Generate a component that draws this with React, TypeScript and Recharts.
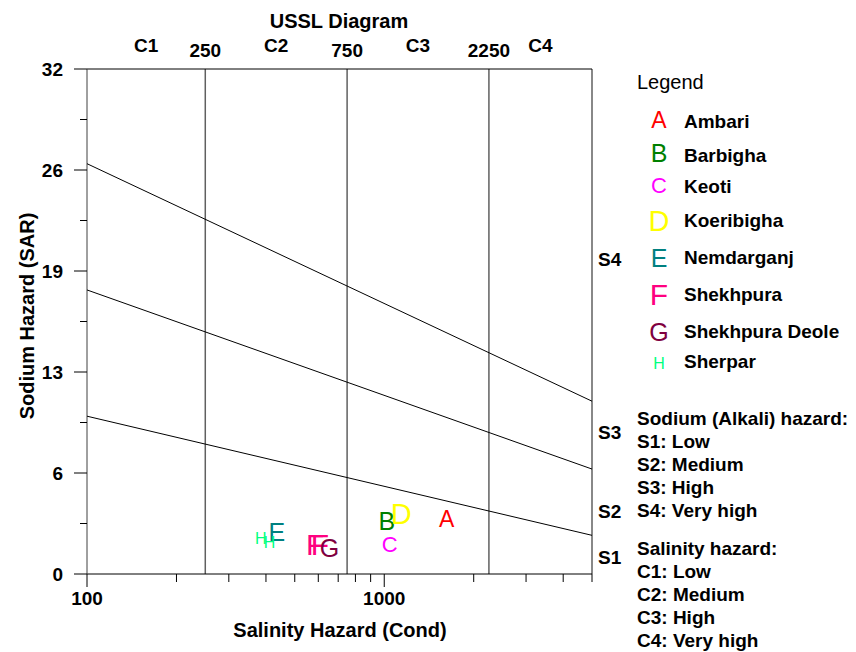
import { ScatterChart, Scatter, XAxis, YAxis, ReferenceLine } from "recharts";

const FONT = "'Liberation Sans', Arial, Helvetica, sans-serif";

// sampling sites
const siteLetters = ["A", "B", "C", "D", "E", "F", "G", "H"];
const siteNames = ["Ambari", "Barbigha", "Keoti", "Koeribigha", "Nemdarganj", "Shekhpura", "Shekhpura Deole", "Sherpar"];
const siteColors = ["#ff0000", "#008000", "#ff00ff", "#ffff00", "#008080", "#ff0080", "#800040", "#00ff80"];
const siteSizes = [23, 25, 22, 29, 25, 30, 25, 16];

// samples (conductivity, SAR)
const sampleSite = ["A", "B", "C", "D", "E", "F", "F", "G", "H", "H"];
const sampleCond = [1623, 1020, 1044, 1141, 435, 586, 608, 654, 384, 411];
const sampleSar = [3.5, 3.38, 1.88, 3.85, 2.68, 1.92, 1.86, 1.67, 2.26, 2.03];

// axes
const condDomain = [100, 5000];
const condTicks = [100, 200, 300, 400, 500, 600, 700, 800, 900, 1000, 2000, 3000, 4000, 5000];
const condLabelTicks = [100, 1000];
const sarDomain = [0, 32];
const sarTicks = [0, 3.2, 6.4, 9.6, 12.8, 16, 19.2, 22.4, 25.6, 28.8, 32];
const sarMajor = [0, 6.4, 12.8, 19.2, 25.6, 32];

// salinity classes
const classBounds = [250, 750, 2250];
const classNames = ["C1", "C2", "C3", "C4"];

// sodium hazard boundaries: SAR at cond 100 and at cond 5000
const boundaryStart = [10, 18, 26];
const boundaryEnd = [2.45, 6.65, 10.95];

const sodiumNames = ["S1", "S2", "S3", "S4"];
const sodiumLabelSar = [1.1, 4.0, 9.0, 19.96];

const sodiumText = ["Sodium (Alkali) hazard:", "S1: Low", "S2: Medium", "S3: High", "S4: Very high"];
const salinityText = ["Salinity hazard:", "C1: Low", "C2: Medium", "C3: High", "C4: Very high"];

// top axis ticks: class names at geometric middles, bounds at their values
const classEdges = [condDomain[0], ...classBounds, condDomain[1]];
const topTicks: { v: number; label: string; bound: boolean }[] = [];
classNames.forEach((name, i) => {
  topTicks.push({ v: Math.sqrt(classEdges[i] * classEdges[i + 1]), label: name, bound: false });
  if (i < classBounds.length) topTicks.push({ v: classBounds[i], label: String(classBounds[i]), bound: true });
});

const legendNameY = [128, 162, 193, 227, 264, 301, 338, 368];
const legendLetterY = [128, 162, 193, 231, 267, 305, 341, 369];

const bold = { fontFamily: FONT, fontWeight: 700, fontSize: 19, fill: "#000" } as const;

function CondTick({ x, y, payload }: any) {
  const major = condLabelTicks.includes(payload.value);
  return (
    <g>
      <line x1={x} x2={x} y1={y} y2={y + (major ? 13 : 8)} stroke="#000" />
      {major ? (
        <text x={x} y={y + 31} textAnchor="middle" {...bold}>
          {payload.value}
        </text>
      ) : null}
    </g>
  );
}

function SarTick({ x, y, payload }: any) {
  const major = sarMajor.includes(payload.value);
  return (
    <g>
      <line x1={x} x2={x - (major ? 13 : 7)} y1={y} y2={y} stroke="#000" />
      {major ? (
        <text x={x - 24} y={y + 7} textAnchor="end" {...bold}>
          {Math.round(payload.value)}
        </text>
      ) : null}
    </g>
  );
}

function ClassTick({ x, y, index }: any) {
  const t = topTicks[index];
  if (!t) return null;
  return (
    <text x={x} y={y - (t.bound ? 12 : 17)} textAnchor="middle" {...bold}>
      {t.label}
    </text>
  );
}

export default function App() {
  const sites = siteLetters.map((letter, i) => ({
    letter,
    color: siteColors[i],
    size: siteSizes[i],
    points: sampleSite
      .map((s, j) => ({ s, cond: sampleCond[j], sar: sampleSar[j] }))
      .filter((p) => p.s === letter),
  }));

  const boundaries = boundaryStart.map((s, i) => [
    { cond: condDomain[0], sar: s },
    { cond: condDomain[1], sar: boundaryEnd[i] },
  ]);

  const sodiumLabels = sodiumNames.map((name, i) => ({ name, cond: condDomain[1], sar: sodiumLabelSar[i] }));

  return (
    <div style={{ position: "absolute", left: 0, top: 0, width: 856, height: 652, background: "#fff" }}>
      <ScatterChart width={856} height={652} margin={{ top: 0, right: 264, bottom: 0, left: 0 }}>
        <XAxis
          xAxisId="bottom"
          dataKey="cond"
          type="number"
          scale="log"
          domain={condDomain}
          ticks={condTicks}
          interval={0}
          height={78}
          tickSize={0}
          tickMargin={0}
          tickLine={false}
          tick={<CondTick />}
          axisLine={{ stroke: "#000" }}
        />
        <XAxis
          xAxisId="top"
          orientation="top"
          dataKey="cond"
          type="number"
          scale="log"
          domain={condDomain}
          allowDataOverflow
          ticks={topTicks.map((t) => t.v)}
          interval={0}
          height={69}
          tickSize={0}
          tickMargin={0}
          tickLine={false}
          tick={<ClassTick />}
          axisLine={{ stroke: "#000" }}
        />
        <YAxis
          dataKey="sar"
          type="number"
          domain={sarDomain}
          ticks={sarTicks}
          interval={0}
          width={87}
          tickSize={0}
          tickMargin={0}
          tickLine={false}
          tick={<SarTick />}
          axisLine={{ stroke: "#404040" }}
        />
        {classBounds.map((b) => (
          <ReferenceLine key={b} xAxisId="bottom" x={b} stroke="#606060" strokeWidth={1.5} />
        ))}
        <ReferenceLine xAxisId="bottom" x={condDomain[1]} stroke="#606060" strokeWidth={1.5} />
        {boundaries.map((d, i) => (
          <Scatter
            key={"b" + i}
            xAxisId="bottom"
            data={d}
            line={{ stroke: "#000", strokeWidth: 1 }}
            shape={() => <g />}
            isAnimationActive={false}
          />
        ))}
        {sites.map((site) => (
          <Scatter
            key={site.letter}
            xAxisId="bottom"
            name={site.letter}
            data={site.points}
            isAnimationActive={false}
            shape={(p: any) => (
              <text
                x={p.cx}
                y={p.cy + site.size * 0.36}
                textAnchor="middle"
                fontFamily={FONT}
                fontSize={site.size}
                fill={site.color}
              >
                {site.letter}
              </text>
            )}
          />
        ))}
        <Scatter
          xAxisId="bottom"
          data={sodiumLabels}
          isAnimationActive={false}
          shape={(p: any) => (
            <text x={p.cx + 6} y={p.cy + 7} {...bold}>
              {p.payload.name}
            </text>
          )}
        />
      </ScatterChart>

      <svg width={856} height={652} style={{ position: "absolute", left: 0, top: 0, pointerEvents: "none" }}>
        <text x={339} y={28} textAnchor="middle" fontFamily={FONT} fontWeight={700} fontSize={20}>
          USSL Diagram
        </text>
        <text x={340} y={637} textAnchor="middle" fontFamily={FONT} fontWeight={700} fontSize={20}>
          Salinity Hazard (Cond)
        </text>
        <text
          x={0}
          y={0}
          transform="translate(34,316) rotate(-90)"
          textAnchor="middle"
          fontFamily={FONT}
          fontWeight={700}
          fontSize={20}
        >
          Sodium Hazard (SAR)
        </text>
        <text x={637} y={89} fontFamily={FONT} fontSize={20}>
          Legend
        </text>
        {siteLetters.map((letter, i) => (
          <g key={letter}>
            <text x={659} y={legendLetterY[i]} textAnchor="middle" fontFamily={FONT} fontSize={siteSizes[i]} fill={siteColors[i]}>
              {letter}
            </text>
            <text x={684} y={legendNameY[i]} {...bold}>
              {siteNames[i]}
            </text>
          </g>
        ))}
        {sodiumText.map((t, i) => (
          <text key={t} x={637} y={425 + i * 23} {...bold}>
            {t}
          </text>
        ))}
        {salinityText.map((t, i) => (
          <text key={t} x={637} y={555 + i * 23} {...bold}>
            {t}
          </text>
        ))}
      </svg>
    </div>
  );
}
